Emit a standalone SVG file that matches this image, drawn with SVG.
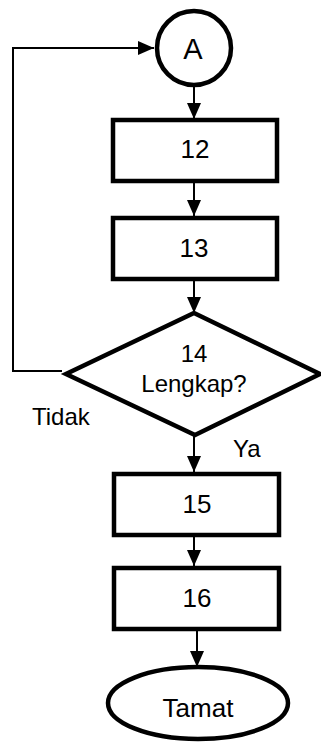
<svg xmlns="http://www.w3.org/2000/svg" width="321" height="743" viewBox="0 0 321 743">
<style>
.shape{fill:#fff;stroke:#000;stroke-width:4.5;stroke-linejoin:miter}
.conn{fill:none;stroke:#000;stroke-width:2}
text{font-family:"Liberation Sans",Arial,sans-serif;font-size:24px;fill:#000}
.c{text-anchor:middle}
.big{font-size:26px}
</style>
<defs>
<marker id="ah" viewBox="0 0 16 14" refX="16" refY="7" markerWidth="16" markerHeight="14" markerUnits="userSpaceOnUse" orient="auto">
<path d="M0,0 L16,7 L0,14 Z" fill="#000"/>
</marker>
</defs>
<g id="connectors">
<line class="conn" x1="194" y1="85" x2="194" y2="119" marker-end="url(#ah)"/>
<line class="conn" x1="194" y1="182" x2="194" y2="216" marker-end="url(#ah)"/>
<line class="conn" x1="194" y1="280" x2="194" y2="313" marker-end="url(#ah)"/>
<line class="conn" x1="194" y1="435" x2="194" y2="472" marker-end="url(#ah)"/>
<line class="conn" x1="194" y1="537" x2="194" y2="566" marker-end="url(#ah)"/>
<line class="conn" x1="197" y1="631" x2="197" y2="667" marker-end="url(#ah)"/>
<polyline class="conn" points="62,371 13,371 13,48 154,48" marker-end="url(#ah)"/>
<text x="32" y="425">Tidak</text>
<text x="233" y="457">Ya</text>
</g>
<g id="nodeA">
<circle class="shape" cx="194" cy="48" r="37"/>
<text class="c" x="193" y="59" style="font-size:29px">A</text>
</g>
<g id="node12">
<rect class="shape" x="113" y="120" width="164" height="61"/>
<text class="c big" x="195" y="158">12</text>
</g>
<g id="node13">
<rect class="shape" x="113" y="218" width="164" height="61"/>
<text class="c big" x="194" y="257">13</text>
</g>
<g id="node14">
<polygon class="shape" points="194,313 320,374 195,435 66,374"/>
<text class="c" x="194" y="362">14</text>
<text class="c" x="194" y="392">Lengkap?</text>
</g>
<g id="node15">
<rect class="shape" x="114" y="474" width="165" height="61"/>
<text class="c big" x="197" y="513">15</text>
</g>
<g id="node16">
<rect class="shape" x="114" y="568" width="165" height="61"/>
<text class="c big" x="197" y="607">16</text>
</g>
<g id="nodeTamat">
<ellipse class="shape" cx="198" cy="703" rx="90" ry="36"/>
<text class="c big" x="198" y="717">Tamat</text>
</g>
</svg>
